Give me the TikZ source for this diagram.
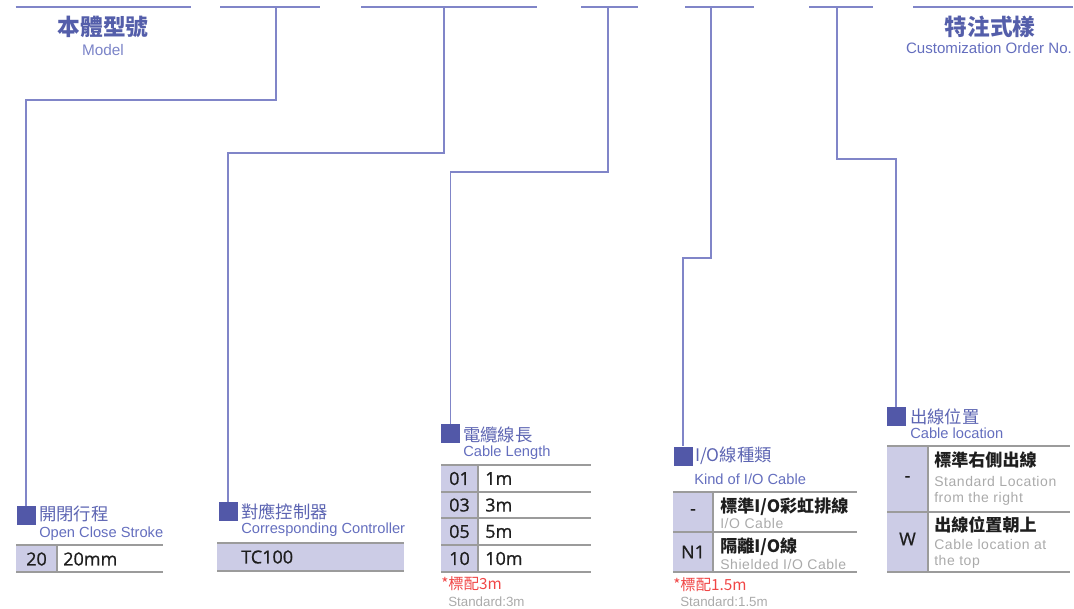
\documentclass[tikz,border=0pt]{standalone}
\usepackage{fontspec}
\setmainfont{Liberation Sans}
\newfontfamily\cjk{Noto Sans CJK TC}
\newfontfamily\engsp[LetterSpace=4]{Liberation Sans}
\newfontfamily\valfont[FakeBold=0.8]{Open Sans}
\definecolor{lineblue}{RGB}{128,133,200}
\definecolor{sqblue}{RGB}{82,88,168}
\definecolor{titleblue}{RGB}{84,94,170}
\definecolor{secblue}{RGB}{92,100,178}
\definecolor{subblue}{RGB}{100,110,190}
\definecolor{cellfill}{RGB}{204,204,230}
\definecolor{rulegray}{RGB}{155,155,155}
\definecolor{txt}{RGB}{30,30,30}
\definecolor{graytxt}{RGB}{170,170,170}
\definecolor{redtxt}{RGB}{240,70,70}
\begin{document}
\begin{tikzpicture}[x=0.75pt,y=-0.75pt,
  topline/.style={draw=lineblue,line width=1.1pt},
  conn/.style={draw=lineblue,line width=1.1pt},
  sq/.style={fill=sqblue,draw=none,minimum size=14.25pt,inner sep=0pt},
  bigttl/.style={font=\cjk\bfseries\fontsize{17}{20}\selectfont,text=titleblue,inner sep=0pt},
  bigsub/.style={font=\fontsize{11.3}{13}\selectfont,text=subblue,inner sep=0pt},
  secttl/.style={font=\cjk\fontsize{13}{15}\selectfont,text=secblue,anchor=west,inner sep=0pt},
  secsub/.style={font=\fontsize{11}{13}\selectfont,text=subblue,anchor=west,inner sep=0pt},
  rule/.style={draw=rulegray,line width=1.3pt},
  cell/.style={fill=cellfill,draw=none},
  code/.style={font=\valfont\fontsize{13.5}{15}\selectfont,text=txt,inner sep=0pt},
  val/.style={font=\valfont\fontsize{13.5}{15}\selectfont,text=txt,anchor=west,inner sep=0pt},
  rowcjk/.style={font=\cjk\bfseries\fontsize{12.8}{15}\selectfont,text=txt,anchor=west,inner sep=0pt},
  rowen/.style={font=\engsp\fontsize{10.5}{12}\selectfont,text=graytxt,anchor=west,inner sep=0pt},
  rednote/.style={font=\cjk\fontsize{11.5}{13}\selectfont,text=redtxt,anchor=west,inner sep=0pt},
  stdnote/.style={font=\fontsize{10}{12}\selectfont,text=graytxt,anchor=west,inner sep=0pt}]
\useasboundingbox (0,0) rectangle (1074,609);

% ---------- top lines ----------
\coordinate (a1) at (15.5,7);  \coordinate (a2) at (191,7);
\coordinate (b1) at (220,7);   \coordinate (b2) at (320,7);  \coordinate (bv) at (276,7);
\coordinate (c1) at (361,7);   \coordinate (c2) at (537,7);  \coordinate (cv) at (444,7);
\coordinate (d1) at (581,7);   \coordinate (d2) at (638,7);  \coordinate (dv) at (608,7);
\coordinate (e1) at (685,7);   \coordinate (e2) at (754,7);  \coordinate (ev) at (711,7);
\coordinate (f1) at (809,7);   \coordinate (f2) at (873,7);  \coordinate (fv) at (837,7);
\coordinate (g1) at (913,7);   \coordinate (g2) at (1073,7);
\draw[topline] (a1) -- (a2);
\draw[topline] (b1) -- (b2);
\draw[topline] (c1) -- (c2);
\draw[topline] (d1) -- (d2);
\draw[topline] (e1) -- (e2);
\draw[topline] (f1) -- (f2);
\draw[topline] (g1) -- (g2);

\node[bigttl] (modelT) at (103,27) {本體型號};
\node[bigsub,font=\fontsize{11.5}{13}\selectfont,text=subblue!85] (modelS) at (103,50) {Model};
\node[bigttl] (custT) at (990,27) {特注式樣};
\node[bigsub] (custS) at (989,48) {Customization Order No.};

% ---------- squares ----------
\node[sq] (sq1) at (26,515.5) {};
\node[sq] (sq2) at (228,511.5) {};
\node[sq] (sq3) at (450.5,433.5) {};
\node[sq] (sq4) at (683,456) {};
\node[sq] (sq5) at (896,416.5) {};

% ---------- connectors ----------
\coordinate (j1) at (26,100);
\coordinate (j2) at (228,153);
\coordinate (j3) at (450.5,172);
\coordinate (j4) at (683,258);
\coordinate (j5) at (896,159);
\draw[conn] (bv) |- (j1) -- (sq1.north);
\draw[conn] (cv) |- (j2) -- (sq2.north);
\draw[conn] (dv) |- (j3) -- (sq3.north);
\draw[conn] (ev) |- (j4) -- (sq4.north);
\draw[conn] (fv) |- (j5) -- (sq5.north);

% ---------- section 1 : stroke ----------
\node[secttl] (s1T) at (39,514) {開閉行程};
\node[secsub] (s1S) at (39,534) {Open Close Stroke};
\fill[cellfill] (16,545) rectangle (57,572);
\draw[rule] (16,545) -- (163,545);
\draw[rule] (16,572) -- (163,572);
\draw[rule] (57,545) -- (57,572);
\node[code] (s1c1) at (36.5,559) {20};
\node[val] (s1v1) at (63,559) {20mm};

% ---------- section 2 : controller ----------
\node[secttl] (s2T) at (241,512) {對應控制器};
\node[secsub] (s2S) at (241,530) {Corresponding Controller};
\fill[cellfill] (217,543) rectangle (404,571);
\draw[rule] (217,543) -- (404,543);
\draw[rule] (217,571) -- (404,571);
\node[val] (s2v1) at (241,557) {TC100};

% ---------- section 3 : cable length ----------
\node[secttl] (s3T) at (463,435) {電纜線長};
\node[secsub] (s3S) at (463,453) {Cable Length};
\fill[cellfill] (441,465) rectangle (478,572);
\foreach \yy in {465,492,518,545,572} {\draw[rule] (441,\yy) -- (591,\yy);}
\draw[rule] (478,465) -- (478,572);
\node[code] (s3c1) at (459.5,478.5) {01};
\node[code] (s3c2) at (459.5,505) {03};
\node[code] (s3c3) at (459.5,531.5) {05};
\node[code] (s3c4) at (459.5,558.5) {10};
\node[val] (s3v1) at (485,478.5) {1m};
\node[val] (s3v2) at (485,505) {3m};
\node[val] (s3v3) at (485,531.5) {5m};
\node[val] (s3v4) at (485,558.5) {10m};
\node[rednote] (s3r) at (441,584) {*標配3m};
\node[stdnote] (s3s) at (448,602) {Standard:3m};

% ---------- section 4 : I/O cable ----------
\node[secttl] (s4T) at (695,456) {I/O線種類};
\node[secsub] (s4S) at (694,479) {Kind of I/O Cable};
\fill[cellfill] (673,492) rectangle (713,572);
\foreach \yy in {492,532,572} {\draw[rule] (673,\yy) -- (857,\yy);}
\draw[rule] (713,492) -- (713,572);
\node[code] (s4c1) at (693,512) {-};
\node[code] (s4c2) at (693,552) {N1};
\node[rowcjk] (s4a1) at (720,507) {標準I/O彩虹排線};
\node[rowen] (s4b1) at (720,523) {I/O Cable};
\node[rowcjk] (s4a2) at (720,547) {隔離I/O線};
\node[rowen] (s4b2) at (720,564) {Shielded I/O Cable};
\node[rednote] (s4r) at (673,585) {*標配1.5m};
\node[stdnote] (s4s) at (680,602) {Standard:1.5m};

% ---------- section 5 : cable location ----------
\node[secttl] (s5T) at (910,417) {出線位置};
\node[secsub] (s5S) at (910,433) {Cable location};
\fill[cellfill] (887,446) rectangle (928,572);
\foreach \yy in {446,512,572} {\draw[rule] (887,\yy) -- (1070,\yy);}
\draw[rule] (928,446) -- (928,572);
\node[code] (s5c1) at (907.5,479) {-};
\node[code] (s5c2) at (907.5,539) {W};
\node[rowcjk] (s5a1) at (934,460) {標準右側出線};
\node[rowen] (s5b1) at (934,481) {Standard Location};
\node[rowen] (s5c1t) at (934,499) {from the right};
\node[rowcjk] (s5a2) at (934,525) {出線位置朝上};
\node[rowen] (s5b2) at (934,544) {Cable location at};
\node[rowen] (s5c2t) at (934,562) {the top};
\end{tikzpicture}
\end{document}
